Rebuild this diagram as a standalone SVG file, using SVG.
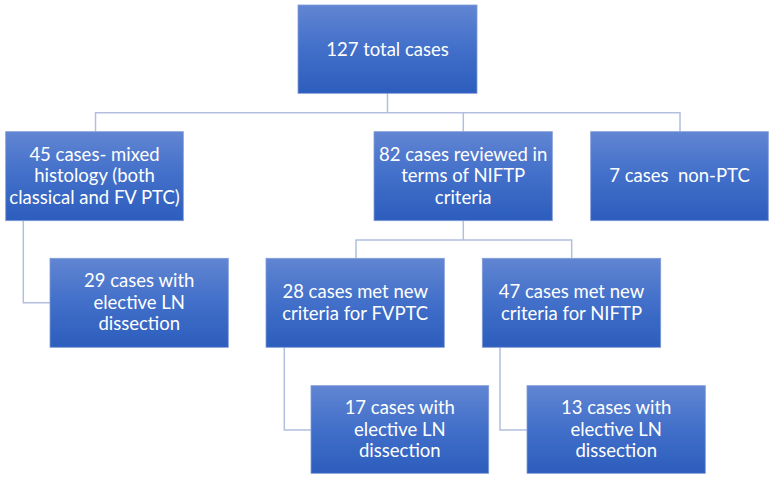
<svg xmlns="http://www.w3.org/2000/svg" width="774" height="479" viewBox="0 0 774 479">
<defs>
<linearGradient id="g" x1="0" y1="0" x2="0" y2="1">
<stop offset="0" stop-color="#6185d2"/>
<stop offset="0.5" stop-color="#416fc9"/>
<stop offset="1" stop-color="#2d5dbd"/>
</linearGradient>
</defs>
<style>
.box{fill:url(#g);stroke:#7f9bd8;stroke-width:0.8}
.t{font-family:Lato,"Open Sans",sans-serif;font-size:18.5px;fill:#ffffff;text-anchor:middle}
.c{fill:none;stroke:#b3bfdf;stroke-width:1.5}
</style>
<rect width="774" height="479" fill="#ffffff"/>
<g id="connectors">
<path class="c" d="M387.5 93 V112.7 M95.5 131.5 V112.7 H680 V131.5 M463.3 112.7 V131.5"/>
<path class="c" d="M23.3 220.7 V302.7 H50"/>
<path class="c" d="M463.3 220.7 V240 M356 258.3 V240 H571.7 V258.3"/>
<path class="c" d="M284.3 347.3 V430 H311"/>
<path class="c" d="M500 347.3 V430 H527"/>
</g>
<g id="n1"><rect class="box" x="298" y="5" width="179" height="88.3"/><text class="t" x="387.5" y="55.5">127 total cases</text></g>
<g id="n2"><rect class="box" x="5.7" y="131.7" width="177.6" height="89"/><text class="t"><tspan x="94.5" y="160.5">45 cases- mixed</tspan><tspan x="94.5" y="182.2">histology (both</tspan><tspan x="94.5" y="203.9">classical and FV PTC)</tspan></text></g>
<g id="n3"><rect class="box" x="374" y="131.7" width="178.3" height="89"/><text class="t"><tspan x="463.2" y="160.5">82 cases reviewed in</tspan><tspan x="463.2" y="182.2">terms of NIFTP</tspan><tspan x="463.2" y="203.9">criteria</tspan></text></g>
<g id="n4"><rect class="box" x="590.7" y="131.7" width="177.6" height="89"/><text class="t" x="679.5" y="182.2" xml:space="preserve">7 cases  non-PTC</text></g>
<g id="n5"><rect class="box" x="50" y="258.3" width="178.3" height="89"/><text class="t"><tspan x="139.2" y="287">29 cases with</tspan><tspan x="139.2" y="308.7">elective LN</tspan><tspan x="139.2" y="330.4">dissection</tspan></text></g>
<g id="n6"><rect class="box" x="266" y="258.3" width="178.3" height="89"/><text class="t"><tspan x="355.2" y="298">28 cases met new</tspan><tspan x="355.2" y="319.7">criteria for FVPTC</tspan></text></g>
<g id="n7"><rect class="box" x="482.3" y="258.3" width="178.4" height="89"/><text class="t"><tspan x="571.5" y="298">47 cases met new</tspan><tspan x="571.5" y="319.7">criteria for NIFTP</tspan></text></g>
<g id="n8"><rect class="box" x="311" y="385.7" width="177.7" height="87.6"/><text class="t"><tspan x="399.8" y="414">17 cases with</tspan><tspan x="399.8" y="435.7">elective LN</tspan><tspan x="399.8" y="457.4">dissection</tspan></text></g>
<g id="n9"><rect class="box" x="527" y="385.7" width="178.3" height="87.6"/><text class="t"><tspan x="616.2" y="414">13 cases with</tspan><tspan x="616.2" y="435.7">elective LN</tspan><tspan x="616.2" y="457.4">dissection</tspan></text></g>
</svg>
